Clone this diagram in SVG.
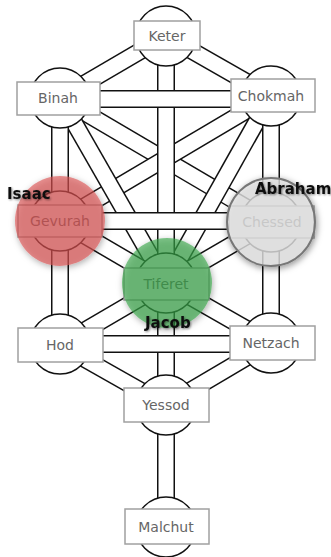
<svg xmlns="http://www.w3.org/2000/svg" width="331" height="557" viewBox="0 0 331 557">
<defs>
<style>
.ch-o{stroke:#111;stroke-width:18;fill:none}
.ch-i{stroke:#fff;stroke-width:15;fill:none}
.sph{fill:#fff;stroke:#111;stroke-width:1.5}
.box{fill:#fff;stroke:#a0a0a0;stroke-width:1.5}
.lbl{font-family:"DejaVu Sans",Verdana,sans-serif;font-size:14px;fill:#666;text-anchor:middle}
.pat{font-family:"DejaVu Sans",Verdana,sans-serif;font-size:15px;font-weight:bold;fill:#111}
</style>
<filter id="glow" x="-30%" y="-30%" width="160%" height="160%">
<feDropShadow dx="1" dy="2" stdDeviation="3" flood-color="#000" flood-opacity="0.5"/>
</filter>
<filter id="tsh" x="-20%" y="-40%" width="140%" height="180%">
<feDropShadow dx="1" dy="1" stdDeviation="1.2" flood-color="#000" flood-opacity="0.45"/>
</filter>
</defs>
<rect width="331" height="557" fill="#fff"/>
<g id="connectors">
<g>
<line class="ch-o" x1="166" y1="36" x2="60" y2="98"/><line class="ch-i" x1="166" y1="36" x2="60" y2="98"/>
<line class="ch-o" x1="166" y1="36" x2="271" y2="96"/><line class="ch-i" x1="166" y1="36" x2="271" y2="96"/>
<line class="ch-o" x1="60" y1="98" x2="271" y2="222"/><line class="ch-i" x1="60" y1="98" x2="271" y2="222"/>
<line class="ch-o" x1="271" y1="96" x2="60" y2="221"/><line class="ch-i" x1="271" y1="96" x2="60" y2="221"/>
<line class="ch-o" x1="60" y1="98" x2="166" y2="283"/><line class="ch-i" x1="60" y1="98" x2="166" y2="283"/>
<line class="ch-o" x1="271" y1="96" x2="166" y2="283"/><line class="ch-i" x1="271" y1="96" x2="166" y2="283"/>
<line class="ch-o" x1="60" y1="221" x2="166" y2="283"/><line class="ch-i" x1="60" y1="221" x2="166" y2="283"/>
<line class="ch-o" x1="271" y1="222" x2="166" y2="283"/><line class="ch-i" x1="271" y1="222" x2="166" y2="283"/>
<line class="ch-o" x1="60" y1="345" x2="166" y2="283"/><line class="ch-i" x1="60" y1="345" x2="166" y2="283"/>
<line class="ch-o" x1="271" y1="343" x2="166" y2="283"/><line class="ch-i" x1="271" y1="343" x2="166" y2="283"/>
<line class="ch-o" x1="60" y1="345" x2="166" y2="405"/><line class="ch-i" x1="60" y1="345" x2="166" y2="405"/>
<line class="ch-o" x1="271" y1="343" x2="166" y2="405"/><line class="ch-i" x1="271" y1="343" x2="166" y2="405"/>
</g>
<g>
<line class="ch-o" x1="60" y1="98" x2="60" y2="345"/><line class="ch-i" x1="60" y1="98" x2="60" y2="345"/>
<line class="ch-o" x1="271" y1="96" x2="271" y2="343"/><line class="ch-i" x1="271" y1="96" x2="271" y2="343"/>
<line class="ch-o" x1="166" y1="36" x2="166" y2="527"/><line class="ch-i" x1="166" y1="36" x2="166" y2="527"/>
</g>
<g>
<line class="ch-o" x1="60" y1="99" x2="271" y2="99"/><line class="ch-i" x1="60" y1="99" x2="271" y2="99"/>
<line class="ch-o" x1="60" y1="221" x2="271" y2="221"/><line class="ch-i" x1="60" y1="221" x2="271" y2="221"/>
<line class="ch-o" x1="60" y1="344" x2="271" y2="344"/><line class="ch-i" x1="60" y1="344" x2="271" y2="344"/>
</g>
</g>
<g id="keter"><circle class="sph" cx="166" cy="36" r="30"/><rect class="box" x="134" y="21" width="66" height="29"/><text class="lbl" x="167" y="41">Keter</text></g>
<g id="binah"><circle class="sph" cx="60" cy="98" r="30"/><rect class="box" x="17" y="82" width="83" height="33"/><text class="lbl" x="58" y="103">Binah</text></g>
<g id="chokmah"><circle class="sph" cx="271" cy="96" r="30"/><rect class="box" x="231" y="79" width="84" height="33"/><text class="lbl" x="271" y="101">Chokmah</text></g>
<g id="gevurah"><circle class="sph" cx="60" cy="221" r="30"/><rect class="box" x="18" y="205" width="84" height="32"/><text class="lbl" x="60" y="226">Gevurah</text></g>
<g id="chessed"><circle class="sph" cx="271" cy="222" r="30"/><rect class="box" x="229" y="206" width="85" height="32"/><text class="lbl" x="272" y="227">Chessed</text></g>
<g id="tiferet"><circle class="sph" cx="166" cy="283" r="30"/><rect class="box" x="124" y="268" width="85" height="32"/><text class="lbl" x="166" y="289">Tiferet</text></g>
<g id="hod"><circle class="sph" cx="60" cy="344" r="30"/><rect class="box" x="18" y="328" width="85" height="34"/><text class="lbl" x="60" y="350">Hod</text></g>
<g id="netzach"><circle class="sph" cx="271" cy="343" r="30"/><rect class="box" x="230" y="326" width="85" height="34"/><text class="lbl" x="271" y="348">Netzach</text></g>
<g id="yessod"><circle class="sph" cx="166" cy="405" r="30"/><rect class="box" x="124" y="388" width="85" height="34"/><text class="lbl" x="166" y="410">Yessod</text></g>
<g id="malchut"><circle class="sph" cx="166" cy="527" r="30"/><rect class="box" x="125" y="509" width="84" height="35"/><text class="lbl" x="166" y="532">Malchut</text></g>
<g id="highlights">
<circle cx="60" cy="221" r="45" fill="#dc5252" fill-opacity="0.62" filter="url(#glow)"/>
<circle cx="271" cy="222" r="44" fill="#e4e4e4" fill-opacity="0.75" stroke="#777" stroke-width="2" filter="url(#glow)"/>
<circle cx="167" cy="283" r="45" fill="#36a446" fill-opacity="0.62" filter="url(#glow)"/>
</g>
<g id="labels" filter="url(#tsh)">
<text class="pat" x="7" y="199">Isaac</text>
<text class="pat" x="255" y="194">Abraham</text>
<text class="pat" x="145" y="328">Jacob</text>
</g>
</svg>
